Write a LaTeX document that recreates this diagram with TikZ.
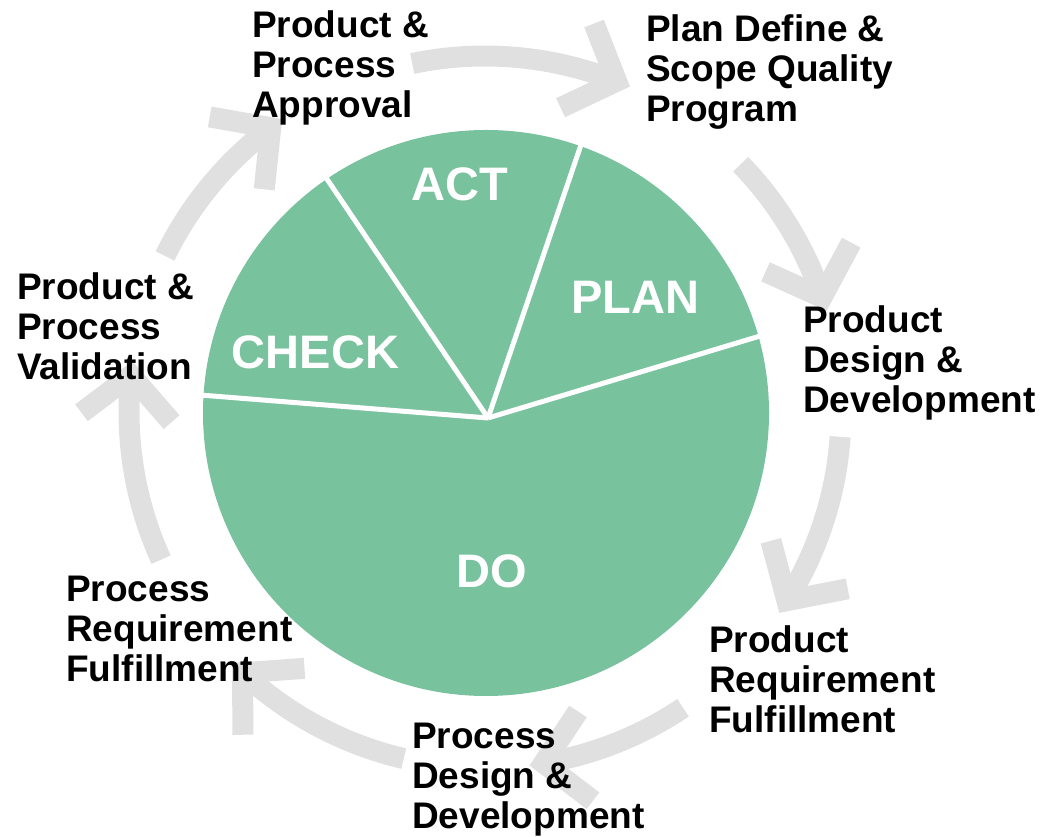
\documentclass[tikz,border=0pt]{standalone}
\usepackage{fontspec}
\setmainfont{Liberation Sans}
\usetikzlibrary{calc}
\definecolor{piegreen}{RGB}{120,194,158}
\definecolor{arrowgray}{RGB}{224,224,224}
\newcommand\cyclearrow[2]{%
  \draw[shaft] ($(ac)+(#1:356)$) arc[start angle=#1, end angle=#2, radius=356];
  \begin{scope}[shift={($(ac)+(#2:356)$)}, rotate=#2]
    \draw[chevron] (45.3,42.3) -- (0,0) -- (-45.3,42.3);
  \end{scope}}
\begin{document}
\begin{tikzpicture}[x=1pt,y=1pt,
  labeltext/.style={anchor=north west, inner sep=0pt, align=left, font=\bfseries\fontsize{37}{40}\selectfont, text=black},
  pielabel/.style={inner sep=0pt, font=\bfseries\fontsize{47}{50}\selectfont, text=white},
  shaft/.style={draw=arrowgray, line width=21pt, line cap=butt},
  chevron/.style={draw=arrowgray, line width=21pt, line cap=butt, line join=miter, miter limit=10},
  divider/.style={draw=white, line width=5pt}
]
\useasboundingbox (0,0) rectangle (1043,837);
\coordinate (pc) at (486,424);
\coordinate (m) at (488,419);
\coordinate (ac) at (485,425);
% pie
\fill[piegreen] (pc) circle (283);
\draw[divider] (m) -- ($(pc)+(176.4:286)$);
\draw[divider] (m) -- ($(pc)+(124.2:286)$);
\draw[divider] (m) -- ($(pc)+(70.5:286)$);
\draw[divider] (m) -- ($(pc)+(15.7:286)$);
\node[pielabel] (act) at (460,652.5) {ACT};
\node[pielabel] (plan) at (635,540) {PLAN};
\node[pielabel] (check) at (315.5,485) {CHECK};
\node[pielabel] (do) at (492,266) {DO};
% cycle arrows
\cyclearrow{101.8}{68.3}
\cyclearrow{44.1}{18.8}
\cyclearrow{-4.0}{-32.0}
\cyclearrow{-56.2}{-80.5}
\cyclearrow{256.8}{227.1}
\cyclearrow{204.5}{174.1}
\cyclearrow{154.0}{127.0}
% labels
\node[labeltext] (approval) at (252,826) {Product \&\\Process\\Approval};
\node[labeltext] (planlab) at (646,822) {Plan Define \&\\Scope Quality\\Program};
\node[labeltext] (proddes) at (803,532) {Product\\Design \&\\Development};
\node[labeltext] (prodreq) at (709,212) {Product\\Requirement\\Fulfillment};
\node[labeltext] (procdes) at (412,114) {Process\\Design \&\\Development};
\node[labeltext] (procreq) at (66,261) {Process\\Requirement\\Fulfillment};
\node[labeltext] (validation) at (17,565) {Product \&\\Process\\Validation};
\end{tikzpicture}
\end{document}
